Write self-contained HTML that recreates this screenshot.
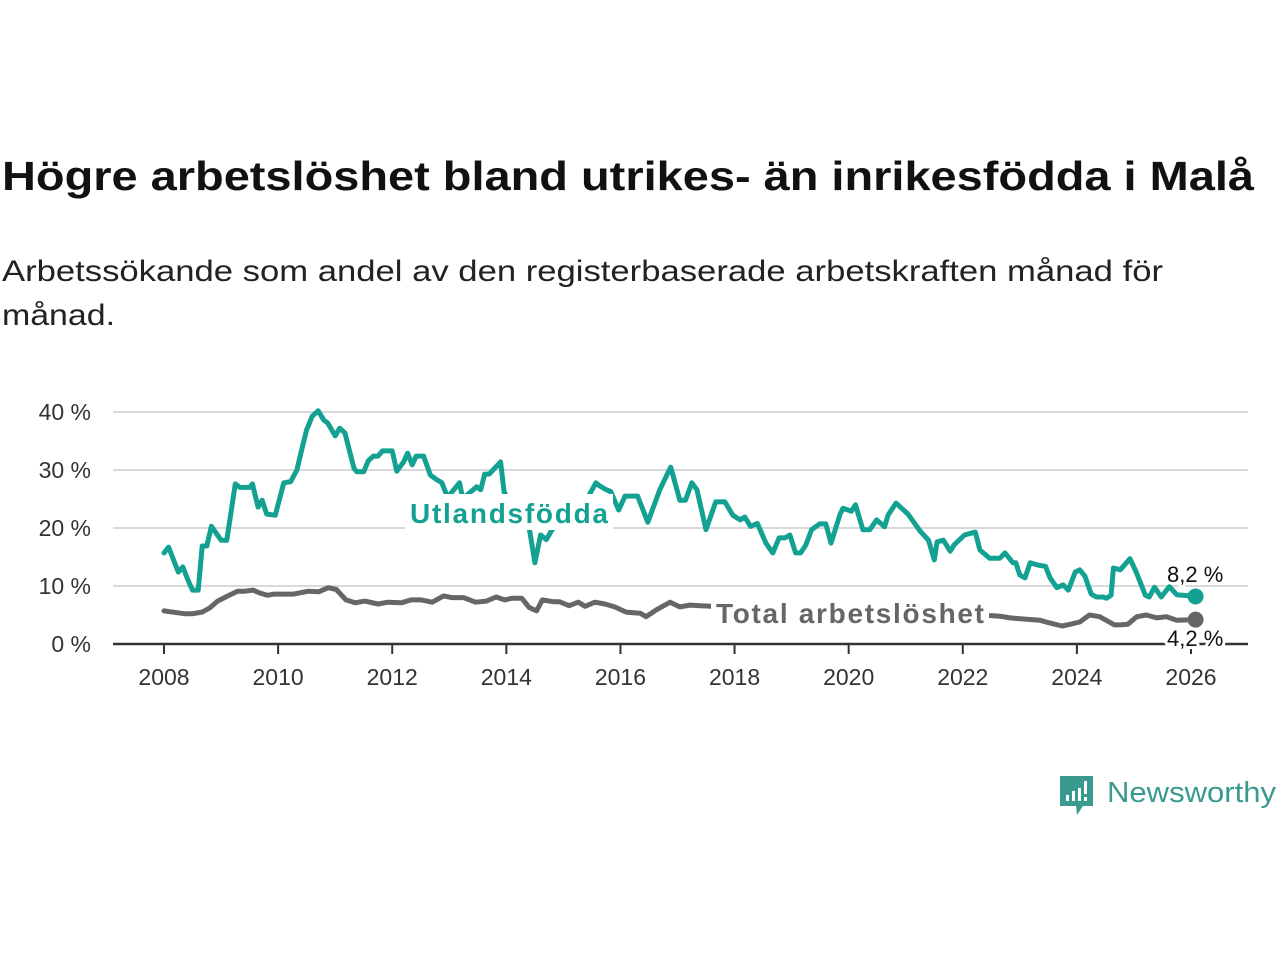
<!DOCTYPE html>
<html><head><meta charset="utf-8">
<style>
html,body{margin:0;padding:0;background:#fff;}
svg{display:block;font-family:"Liberation Sans",sans-serif;}
</style></head>
<body>
<svg id="chart" width="1280" height="960" viewBox="0 0 1280 960" xmlns="http://www.w3.org/2000/svg">
  <text x="2" y="190" font-size="41" font-weight="bold" fill="#111" textLength="1252" lengthAdjust="spacingAndGlyphs">Högre arbetslöshet bland utrikes- än inrikesfödda i Malå</text>
  <text x="2" y="281" font-size="30" fill="#222" textLength="1161" lengthAdjust="spacingAndGlyphs">Arbetssökande som andel av den registerbaserade arbetskraften månad för</text>
  <text x="2" y="325" font-size="30" fill="#222" textLength="113" lengthAdjust="spacingAndGlyphs">månad.</text>
  <g id="grid"></g>
  <g id="yticks"></g>
  <g id="xticks"></g>
  <g id="series"></g>
  <g>
    <path d="M1060 776 h33 v30 h-10 l-6 9 l-1 -9 h-16 z" fill="#3a9a90"/>
    <rect x="1066" y="795" width="3" height="6" fill="#fff"/>
    <rect x="1072" y="791" width="3" height="10" fill="#fff"/>
    <rect x="1078" y="788" width="3" height="13" fill="#fff"/>
    <rect x="1084" y="781" width="3" height="13" fill="#fff"/>
    <rect x="1084" y="797" width="3" height="4" fill="#fff"/>
    <text x="1107" y="802" font-size="29" fill="#3a9a90" textLength="169" lengthAdjust="spacingAndGlyphs">Newsworthy</text>
  </g>
</svg>
<script>
const yTicks = [0, 10, 20, 30, 40];
const yTickLabels = ["0 %", "10 %", "20 %", "30 %", "40 %"];
const xTicks = [2008, 2010, 2012, 2014, 2016, 2018, 2020, 2022, 2024, 2026];
const uYears = [2008.0,2008.08,2008.25,2008.33,2008.42,2008.5,2008.6,2008.67,2008.75,2008.83,
  2009.0,2009.1,2009.25,2009.33,2009.5,2009.55,2009.65,2009.72,2009.8,2009.95,
  2010.1,2010.22,2010.33,2010.42,2010.5,2010.6,2010.7,2010.8,2010.87,2011.0,
  2011.08,2011.17,2011.33,2011.38,2011.5,2011.58,2011.67,2011.75,2011.83,2011.92,
  2012.0,2012.08,2012.2,2012.27,2012.35,2012.42,2012.55,2012.67,2012.77,2012.87,
  2012.97,2013.18,2013.23,2013.3,2013.48,2013.55,2013.62,2013.7,2013.9,2013.96,
  2014.2,2014.4,2014.5,2014.6,2014.7,2014.8,2015.0,2015.3,2015.57,2015.63,
  2015.75,2015.83,2015.97,2016.08,2016.3,2016.48,2016.69,2016.88,2017.04,2017.14,
  2017.25,2017.34,2017.5,2017.67,2017.83,2017.97,2018.1,2018.18,2018.28,2018.4,
  2018.55,2018.67,2018.78,2018.88,2018.97,2019.07,2019.16,2019.25,2019.35,2019.49,
  2019.6,2019.69,2019.85,2019.9,2020.05,2020.12,2020.25,2020.37,2020.49,2020.63,
  2020.69,2020.83,2021.04,2021.25,2021.4,2021.5,2021.55,2021.66,2021.78,2021.85,
  2022.03,2022.22,2022.3,2022.47,2022.65,2022.74,2022.88,2022.93,2023.0,2023.09,
  2023.18,2023.32,2023.45,2023.53,2023.65,2023.76,2023.85,2023.97,2024.05,2024.14,
  2024.25,2024.34,2024.46,2024.52,2024.6,2024.64,2024.76,2024.93,2025.04,2025.2,
  2025.27,2025.36,2025.48,2025.62,2025.75,2026.08];
const uVals = [15.7,16.7,12.4,13.3,11.0,9.3,9.3,16.9,16.9,20.3,
  17.9,17.9,27.6,27.0,27.0,27.6,23.6,24.8,22.4,22.2,
  27.8,28.0,30.0,33.8,36.9,39.3,40.2,38.6,38.1,35.9,
  37.2,36.4,30.3,29.7,29.7,31.6,32.4,32.4,33.3,33.3,
  33.3,29.8,31.4,32.9,30.9,32.4,32.4,29.1,28.4,27.8,
  25.3,27.8,25.3,25.6,27.1,26.6,29.3,29.3,31.4,26.2,
  22.0,20.0,14.0,18.8,18.0,19.7,21.5,23.0,27.8,27.3,
  26.6,26.3,23.1,25.5,25.5,21.0,26.6,30.5,24.8,24.8,
  27.8,26.6,19.7,24.5,24.5,22.2,21.4,21.9,20.3,20.8,
  17.4,15.7,18.3,18.3,18.8,15.7,15.7,17.1,19.7,20.7,
  20.7,17.4,22.4,23.4,22.9,24.0,19.7,19.7,21.4,20.2,
  22.2,24.3,22.4,19.5,17.9,14.5,17.6,17.9,16.0,17.1,
  18.8,19.3,16.2,14.8,14.8,15.7,14.0,14.0,11.9,11.4,
  14.0,13.6,13.4,11.4,9.7,10.2,9.3,12.4,12.8,11.7,
  8.6,8.1,8.1,7.9,8.4,13.1,12.8,14.7,12.4,8.4,
  8.1,9.8,8.1,9.9,8.5,8.2];
const tYears = [2008.0,2008.23,2008.37,2008.49,2008.67,2008.8,2008.94,2009.12,2009.29,2009.42,2009.56,2009.68,2009.81,2009.93,2010.1,2010.27,2010.53,2010.71,2010.88,2011.02,2011.19,2011.35,2011.52,2011.75,2011.93,2012.16,2012.33,2012.51,2012.7,2012.9,2013.04,2013.25,2013.46,2013.65,2013.82,2013.97,2014.11,2014.27,2014.4,2014.53,2014.63,2014.82,2014.93,2015.1,2015.26,2015.38,2015.55,2015.73,2015.9,2016.1,2016.35,2016.45,2016.63,2016.87,2017.04,2017.22,2017.4,2017.6,2018.0,2018.5,2019.0,2019.5,2020.0,2020.5,2021.0,2021.5,2022.0,2022.5,2022.65,2022.83,2023.09,2023.35,2023.53,2023.74,2023.88,2024.05,2024.22,2024.4,2024.66,2024.75,2024.89,2025.05,2025.22,2025.4,2025.57,2025.75,2026.08];
const tVals = [5.7,5.4,5.2,5.2,5.5,6.2,7.4,8.3,9.1,9.1,9.3,8.8,8.4,8.6,8.6,8.6,9.1,9.0,9.7,9.4,7.6,7.1,7.4,6.9,7.2,7.1,7.6,7.6,7.2,8.3,8.0,8.0,7.2,7.4,8.1,7.6,7.9,7.9,6.3,5.7,7.6,7.3,7.3,6.6,7.2,6.5,7.2,6.9,6.4,5.5,5.3,4.7,5.9,7.2,6.4,6.7,6.6,6.5,6.3,6.0,5.9,5.8,5.7,5.5,5.3,5.2,5.0,4.9,4.8,4.5,4.3,4.1,3.6,3.1,3.4,3.8,5.0,4.7,3.3,3.3,3.4,4.7,5.0,4.5,4.7,4.1,4.2];

const NS = "http://www.w3.org/2000/svg";
const X0 = 164, X1 = 1191, Y0 = 644, YPER = 5.8;
function xs(y){ return X0 + (y - 2008) * (X1 - X0) / 18; }
function ys(v){ return Y0 - v * YPER; }
function mk(tag, attrs, parent){ const e = document.createElementNS(NS, tag); for (const k in attrs) e.setAttribute(k, attrs[k]); parent.appendChild(e); return e; }

const grid = document.getElementById('grid');
const yt = document.getElementById('yticks');
yTicks.forEach((v, i) => {
  if (v > 0) {
    const g = mk('line', {x1:113, x2:1248, y1:ys(v), y2:ys(v), stroke:'#d9d9d9', 'stroke-width':2}, grid);
    
    
  }
  const t = mk('text', {x:91, y:ys(v)+8, 'font-size':23, fill:'#333', 'text-anchor':'end'}, yt);
  
  
  t.textContent = yTickLabels[i];
});
const base = mk('line', {x1:113, x2:1248, y1:Y0, y2:Y0, stroke:'#333', 'stroke-width':2.5}, grid);



const xt = document.getElementById('xticks');
xTicks.forEach(yr => {
  const tk = mk('line', {x1:xs(yr), x2:xs(yr), y1:Y0, y2:Y0+10, stroke:'#333', 'stroke-width':2}, xt);
  
  
  const t = mk('text', {x:xs(yr), y:685, 'font-size':23, fill:'#333', 'text-anchor':'middle'}, xt);
  
  
  t.textContent = String(yr);
});

const ser = document.getElementById('series');
function line(years, vals, color, name){
  const d = years.map((y,i)=>(i?'L':'M')+xs(y).toFixed(1)+' '+ys(vals[i]).toFixed(1)).join(' ');
  const p = mk('path', {d:d, fill:'none', stroke:color, 'stroke-width':5, 'stroke-linejoin':'round', 'stroke-linecap':'round'}, ser);
  
  
  const n = years.length - 1;
  const c = mk('circle', {cx:xs(years[n]), cy:ys(vals[n]), r:8, fill:color}, ser);
  
  
}
line(tYears, tVals, '#666666', 'total-line');
line(uYears, uVals, '#13a192', 'utlandsfodda-line');

function bg(x, y, w, h, name){
  const r = mk('rect', {x:x, y:y, width:w, height:h, fill:'#fff'}, ser);
  
  
}
bg(405, 494, 208, 36, 'utlandsfodda-label-bg');
bg(711, 597, 278, 34, 'total-label-bg');

function label(txt, x, y, color, size, name, weight){
  const t = mk('text', {x:x, y:y, 'font-size':size, fill:color, 'font-weight':weight, stroke:'#fff', 'stroke-width':6, 'paint-order':'stroke', 'stroke-linejoin':'round'}, ser);
  
  
  t.textContent = txt;
  return t;
}
label('Utlandsfödda', 410, 523, '#13a192', 28, 'utlandsfodda-label', 'bold').setAttribute('textLength', '198');
label('Total arbetslöshet', 716, 623, '#666666', 28, 'total-label', 'bold').setAttribute('textLength', '268');
const n1 = uVals.length - 1, n2 = tVals.length - 1;
label(String(uVals[n1]).replace('.', ',') + ' %', 1167, 582, '#111', 22, 'utlandsfodda-end-value', 'normal');
label(String(tVals[n2]).replace('.', ',') + ' %', 1167, 646, '#111', 22, 'total-end-value', 'normal');
</script>
</body></html>
